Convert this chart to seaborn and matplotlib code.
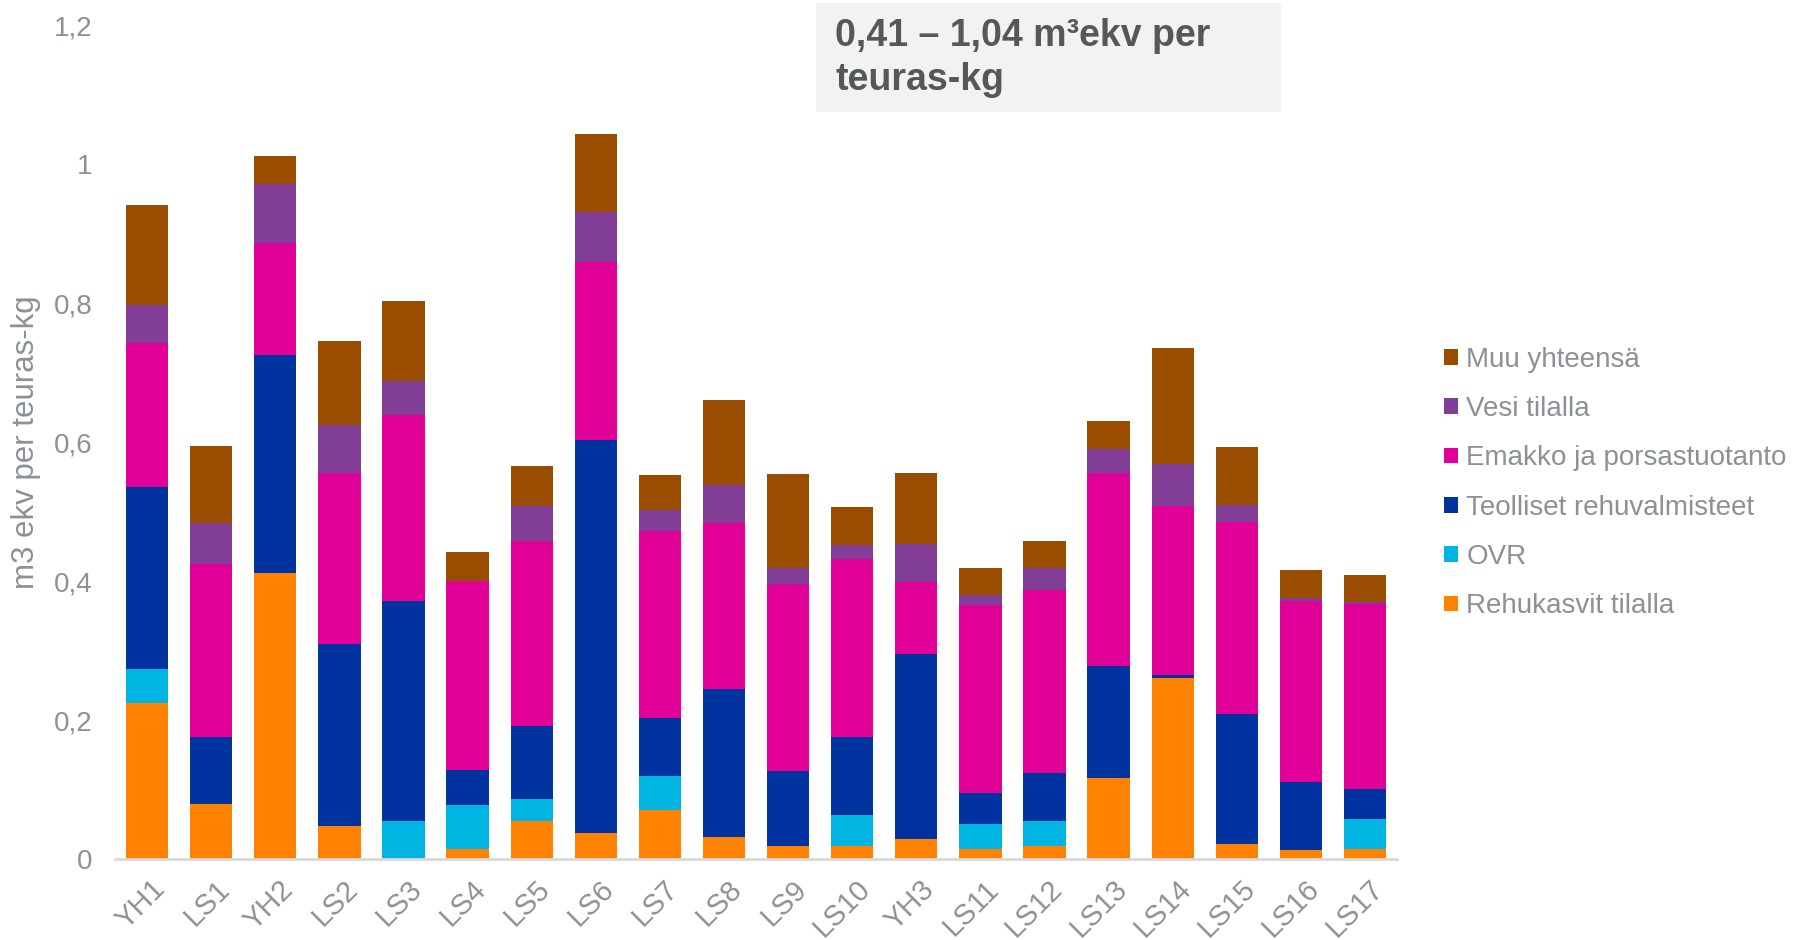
import matplotlib
matplotlib.use("Agg")
import matplotlib.pyplot as plt
import matplotlib.transforms as mtransforms
from matplotlib.patches import Patch, Rectangle
import seaborn as sns
import numpy as np

# Farms
categories = ["YH1", "LS1", "YH2", "LS2", "LS3", "LS4", "LS5", "LS6", "LS7", "LS8",
              "LS9", "LS10", "YH3", "LS11", "LS12", "LS13", "LS14", "LS15", "LS16", "LS17"]

# Water footprint components, m3 ekv per teuras-kg (bottom to top of each stack)
rehukasvit = [0.224, 0.079, 0.411, 0.048, 0.000, 0.014, 0.055, 0.037, 0.070, 0.031,
              0.019, 0.018, 0.029, 0.014, 0.018, 0.117, 0.260, 0.022, 0.013, 0.015]
ovr = [0.049, 0.000, 0.000, 0.000, 0.055, 0.064, 0.031, 0.000, 0.049, 0.000,
       0.000, 0.046, 0.000, 0.036, 0.036, 0.000, 0.000, 0.000, 0.000, 0.043]
teolliset = [0.262, 0.096, 0.315, 0.261, 0.316, 0.050, 0.106, 0.566, 0.084, 0.213,
             0.107, 0.111, 0.266, 0.045, 0.070, 0.161, 0.005, 0.187, 0.098, 0.043]
emakko = [0.207, 0.250, 0.161, 0.247, 0.268, 0.272, 0.266, 0.256, 0.269, 0.240,
          0.270, 0.257, 0.103, 0.270, 0.263, 0.278, 0.243, 0.276, 0.260, 0.266]
vesi = [0.056, 0.058, 0.085, 0.069, 0.049, 0.000, 0.050, 0.072, 0.030, 0.054,
        0.023, 0.020, 0.056, 0.015, 0.032, 0.034, 0.060, 0.024, 0.005, 0.003]
muu = [0.143, 0.112, 0.040, 0.121, 0.115, 0.042, 0.057, 0.112, 0.050, 0.122,
       0.135, 0.054, 0.101, 0.039, 0.038, 0.041, 0.168, 0.084, 0.040, 0.039]

series_names = ["Rehukasvit tilalla", "OVR", "Teolliset rehuvalmisteet",
                "Emakko ja porsastuotanto", "Vesi tilalla", "Muu yhteensä"]
series_values = [rehukasvit, ovr, teolliset, emakko, vesi, muu]
series_colors = ["#FF8200", "#00B5E2", "#0033A0", "#E10098", "#823D96", "#9A4D00"]

y_ticks = [0, 0.2, 0.4, 0.6, 0.8, 1.0, 1.2]
y_tick_labels = ["0", "0,2", "0,4", "0,6", "0,8", "1", "1,2"]

title_text = "0,41 – 1,04 m³ekv per\nteuras-kg"
y_label = "m3 ekv per teuras-kg"

sns.set_theme(style="white")
plt.rcParams["font.family"] = ["Liberation Sans", "DejaVu Sans"]

text_gray = "#8C9196"

fig = plt.figure(figsize=(17.98, 9.40), dpi=100)
ax = fig.add_axes([0.064, 0.0862, 0.713, 0.887])

# Stacked bars: draw cumulative totals from the top layer down
cum = np.cumsum(np.array(series_values), axis=0)
for i in range(len(series_names) - 1, -1, -1):
    sns.barplot(x=categories, y=cum[i], color=series_colors[i], saturation=1,
                width=0.66, errorbar=None, ax=ax, linewidth=0)

ax.set_ylim(0, 1.2)
ax.set_xlim(-0.5, len(categories) - 0.5)
ax.set_yticks(y_ticks)
ax.set_yticklabels(y_tick_labels)
ax.tick_params(axis="y", length=0, pad=16, labelsize=20, labelcolor=text_gray)
ax.tick_params(axis="x", length=0, pad=10, labelsize=21, labelcolor=text_gray)
shift = mtransforms.ScaledTranslation(4 / 100, -2 / 100, fig.dpi_scale_trans)
for lbl in ax.get_xticklabels():
    lbl.set_rotation(45)
    lbl.set_ha("right")
    lbl.set_rotation_mode("anchor")
    lbl.set_transform(lbl.get_transform() + shift)

for side in ["top", "right", "left"]:
    ax.spines[side].set_visible(False)
ax.spines["bottom"].set_color("#D9D9D9")
ax.spines["bottom"].set_linewidth(2)
ax.grid(False)

ax.set_ylabel(y_label, fontsize=22.5, color=text_gray)
ax.yaxis.set_label_coords(-0.058, 0.5)

# Legend, top layer listed first
handles = [Patch(facecolor=c, edgecolor="none") for c in series_colors][::-1]
labels = series_names[::-1]
leg = fig.legend(handles, labels, loc="upper left", bbox_to_anchor=(0.797, 0.643),
                 frameon=False, fontsize=20, handlelength=0.5, handleheight=0.5,
                 handletextpad=0.3, labelspacing=0.84, borderaxespad=0)
for t in leg.get_texts():
    t.set_color(text_gray)

# Range callout box
fig.patches.append(Rectangle((816 / 1798, 1 - 112 / 940), (1281 - 816) / 1798, (112 - 3) / 940,
                             transform=fig.transFigure, facecolor="#F2F2F2",
                             edgecolor="none", zorder=0))
fig.text(835 / 1798, 1 - 18 / 940, title_text, fontsize=27, fontweight="bold",
         color="#54585A", ha="left", va="top", linespacing=1.28)

fig.savefig("out.png", dpi=100)
